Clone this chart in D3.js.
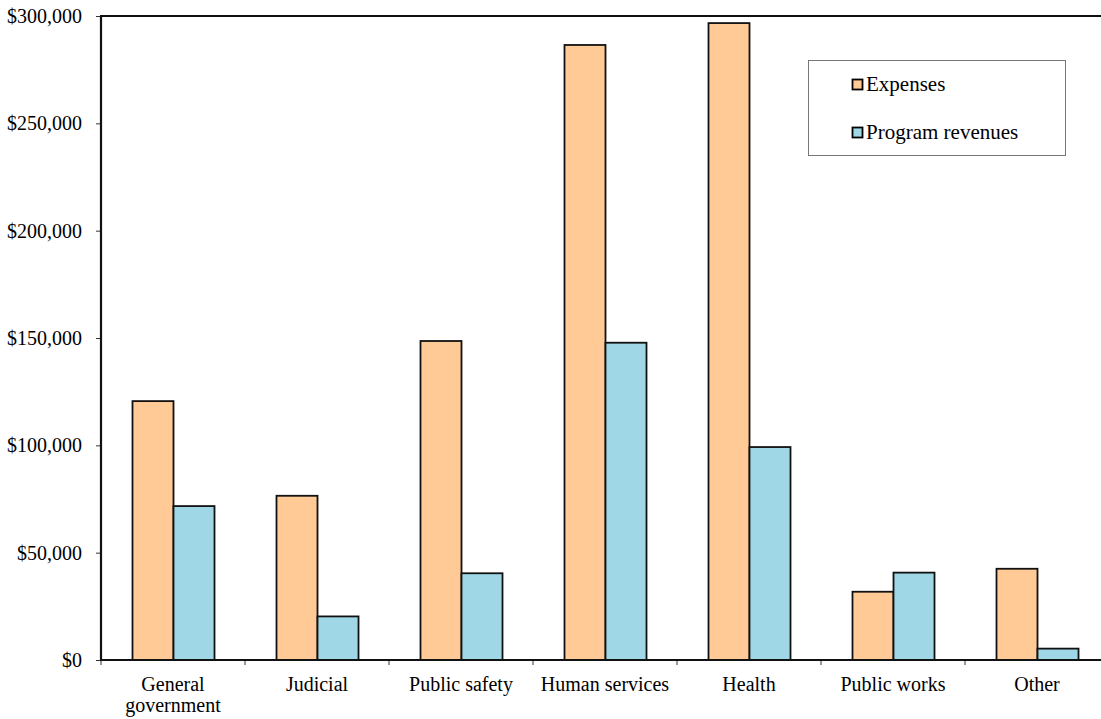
<!DOCTYPE html>
<html><head><meta charset="utf-8">
<script src="https://cdn.jsdelivr.net/npm/d3@7/dist/d3.min.js"></script>
<style>body{margin:0;background:#fff;}svg{display:block;}</style>
</head><body><svg id="c" width="1101" height="719"></svg>
<script>
const categories = ["General government","Judicial","Public safety","Human services","Health","Public works","Other"];
const expenses = [120600,76500,148600,286500,296700,31800,42500];
const revenues = [71700,20300,40400,147800,99200,40700,5300];
const seriesNames = ["Expenses","Program revenues"];
const yTicks = [0,50000,100000,150000,200000,250000,300000];
const colors = ["#FFCA96","#A0D7E7"];

(function(){
const FONT = "'Liberation Serif','Times New Roman',Times,'DejaVu Serif',serif";
const svg = d3.select("#c").style("font-family",FONT);
const mLeft = 101, mTop = 16, mBottom = 660, mRight = 1109;
const x = d3.scaleBand().domain(categories).range([mLeft,mRight]).paddingInner(0).paddingOuter(0);
const y = d3.scaleLinear().domain([0,300000]).range([mBottom,mTop]);
const inner = d3.scaleBand().domain(seriesNames).range([0,x.bandwidth()]).paddingOuter(0.756).paddingInner(0);

const g = svg.append("g");
categories.forEach((c,i)=>{
  const vals=[expenses[i],revenues[i]];
  vals.forEach((v,j)=>{
    g.append("rect").attr("x",x(c)+inner(seriesNames[j])+0.5).attr("y",y(v))
      .attr("width",inner.bandwidth()).attr("height",y(0)-y(v))
      .attr("fill",colors[j]).attr("stroke","#111").attr("stroke-width",1.8);
  });
});

const ya = svg.append("g").attr("transform",`translate(${mLeft},0)`)
  .call(d3.axisLeft(y).tickValues(yTicks).tickSize(5).tickPadding(14).tickFormat(d=>"$"+d3.format(",")(d)));
ya.attr("font-family",null).attr("font-size",null);
ya.select(".domain").remove();
ya.selectAll(".tick line").attr("stroke","#333").attr("stroke-width",1);
ya.selectAll(".tick text").style("font-size","20px").style("font-family",FONT).attr("fill","#000");

const xa = svg.append("g").attr("transform",`translate(0,${mBottom})`);
const bounds = categories.map(c=>x(c)).concat([mRight]);
bounds.forEach(b=>{
  xa.append("line").attr("x1",b).attr("x2",b).attr("y1",0).attr("y2",5).attr("stroke","#333").attr("stroke-width",1);
});
categories.forEach(c=>{
  const cx = x(c)+x.bandwidth()/2;
  const words = c==="General government" ? ["General","government"] : [c];
  words.forEach((w,k)=>{
    xa.append("text").attr("x",cx).attr("y",31+k*21).attr("text-anchor","middle")
      .style("font-size","20px").style("font-family",FONT).attr("fill","#000").text(w);
  });
});

svg.append("line").attr("x1",mLeft).attr("x2",mLeft).attr("y1",mTop).attr("y2",mBottom).attr("stroke","#111").attr("stroke-width",2.2);
svg.append("line").attr("x1",mLeft-1).attr("x2",1101).attr("y1",mTop).attr("y2",mTop).attr("stroke","#111").attr("stroke-width",2.2);
svg.append("line").attr("x1",mLeft-1).attr("x2",1101).attr("y1",mBottom).attr("y2",mBottom).attr("stroke","#111").attr("stroke-width",2.2);

const lg = svg.append("g");
lg.append("rect").attr("x",808.5).attr("y",60.5).attr("width",257).attr("height",95).attr("fill","#fff").attr("stroke","#777").attr("stroke-width",1);
seriesNames.forEach((s,j)=>{
  const yy = 79 + j*48;
  lg.append("rect").attr("x",852.5).attr("y",yy+0.5).attr("width",10).attr("height",10).attr("fill",colors[j]).attr("stroke","#000").attr("stroke-width",1.8);
  lg.append("text").attr("x",866).attr("y",yy+12).style("font-size","21px").style("font-family",FONT).attr("fill","#000").text(s);
});
})();
</script></body></html>
